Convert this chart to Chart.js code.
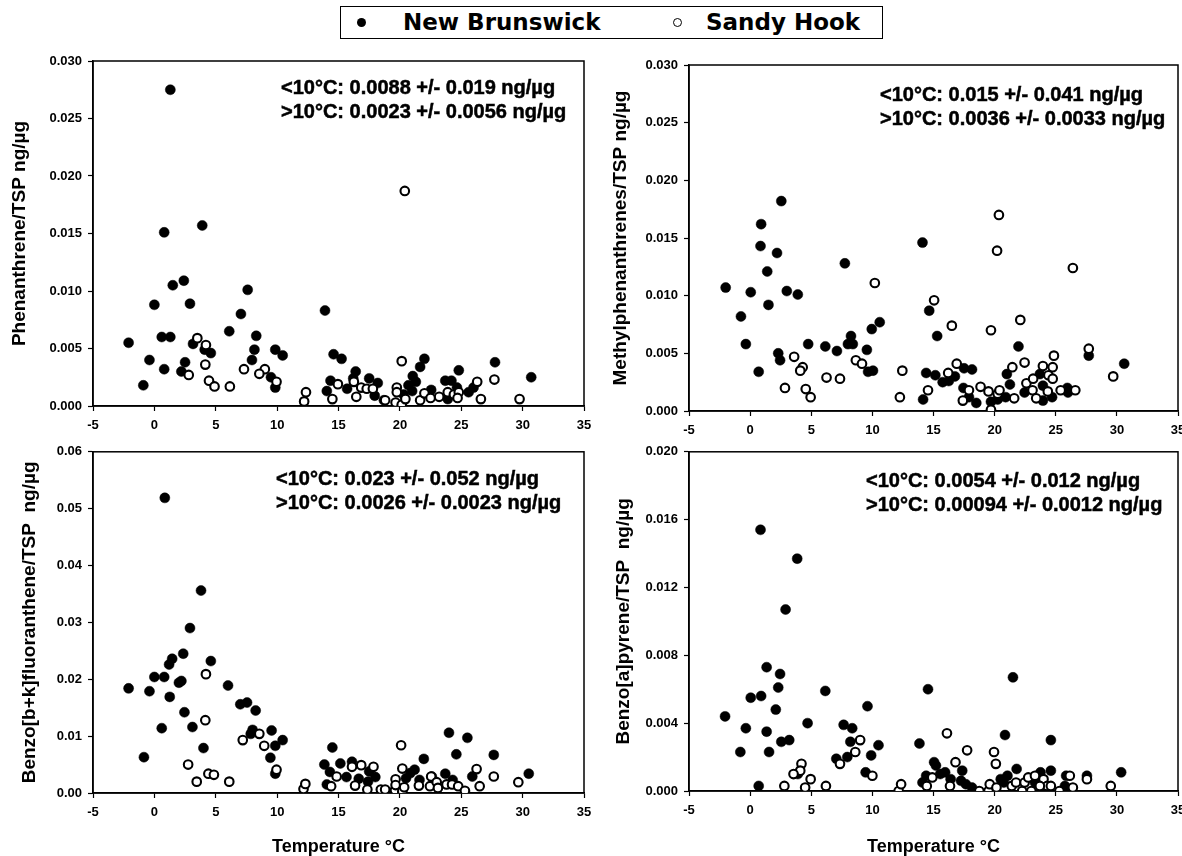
<!DOCTYPE html>
<html>
<head>
<meta charset="utf-8">
<script src="https://cdn.jsdelivr.net/npm/chart.js@4.4.1/dist/chart.umd.min.js"></script>
<style>
    html, body { margin: 0; padding: 0; background: #fff; overflow: hidden; }
    #page { position: relative; width: 1182px; height: 856px; overflow: hidden; }
    #page canvas { position: absolute; }
    #legend {
        position: absolute; left: 340px; top: 6px; width: 541px; height: 31px;
        border: 1.5px solid #000; font: bold 23px "DejaVu Sans", sans-serif; color: #000;
    }
    #legend span { position: absolute; }
    .dot { width: 9px; height: 9px; border-radius: 50%; top: 11px; box-sizing: border-box; }
    .lbl { top: 2px; line-height: 27px; }
</style>
</head>
<body>
<div id="page">
    <div id="legend">
        <span class="dot" style="left:16px;background:#000"></span>
        <span class="lbl" style="left:62px">New Brunswick</span>
        <span class="dot" style="left:332px;border:1.8px solid #000;background:#fff"></span>
        <span class="lbl" style="left:365px">Sandy Hook</span>
    </div>
</div>
<script>
// x axis: temperature (°C)
const tempTicks = { min: -5, max: 35, step: 5 };

// Phenanthrene/TSP  [temp, ng/µg]
const phenNB = [
    [1.3, 0.0275], [0.8, 0.0151], [3.9, 0.0157], [0.0, 0.0088], [1.5, 0.0105], [2.4, 0.0109], [2.9, 0.0089],
    [7.6, 0.0101], [7.05, 0.0080], [6.1, 0.0065], [13.9, 0.0083], [-2.1, 0.0055], [0.6, 0.0060], [1.3, 0.0060],
    [3.15, 0.0054], [4.1, 0.0049], [4.6, 0.0046], [8.3, 0.0061], [8.15, 0.0049], [7.95, 0.0040], [9.85, 0.0049],
    [10.45, 0.0044], [-0.4, 0.0040], [2.5, 0.0038], [0.8, 0.0032], [2.2, 0.0030], [-0.9, 0.0018], [9.5, 0.0025],
    [9.85, 0.0016], [14.6, 0.0045], [15.25, 0.0041], [14.35, 0.0022], [14.05, 0.0013], [16.4, 0.0030],
    [15.7, 0.0015], [16.2, 0.0024], [17.5, 0.0024], [18.2, 0.0020], [17.95, 0.0009], [18.7, 0.0005],
    [22.0, 0.0041], [21.65, 0.0034], [21.05, 0.0026], [21.3, 0.0021], [20.7, 0.0018], [21.0, 0.0013],
    [20.3, 0.0010], [22.55, 0.0014], [23.7, 0.0022], [24.2, 0.0022], [24.8, 0.0031], [23.9, 0.0006],
    [24.65, 0.0016], [25.6, 0.0012], [26.0, 0.0016], [27.75, 0.0038], [30.7, 0.0025]
];
const phenSH = [
    [20.4, 0.0187], [3.5, 0.0059], [4.2, 0.0053], [4.15, 0.0036], [2.8, 0.0027], [4.45, 0.0022], [4.9, 0.0017],
    [6.15, 0.0017], [7.3, 0.0032], [9.0, 0.0032], [8.55, 0.0028], [9.95, 0.0021], [12.2, 0.0004], [12.35, 0.0012],
    [14.5, 0.0006], [14.95, 0.0019], [16.45, 0.0008], [16.25, 0.0021], [16.85, 0.0016], [17.3, 0.0015],
    [17.8, 0.0015], [18.8, 0.0005], [19.65, 0.0003], [20.15, 0.0039], [19.75, 0.0016], [19.75, 0.0012],
    [20.15, 0.0001], [20.45, 0.0006], [21.65, 0.0005], [22.0, 0.0011], [22.5, 0.0007], [23.2, 0.0008],
    [23.9, 0.0012], [24.4, 0.0010], [24.8, 0.0012], [24.7, 0.0007], [26.3, 0.0021], [26.6, 0.0006],
    [27.7, 0.0023], [29.75, 0.0006]
];

// Methylphenanthrenes/TSP
const mpNB = [
    [2.55, 0.0182], [0.9, 0.0162], [0.85, 0.0143], [2.2, 0.0137], [1.4, 0.0121], [-2.0, 0.0107], [0.05, 0.0103],
    [3.0, 0.0104], [3.9, 0.0101], [1.5, 0.0092], [-0.75, 0.0082], [-0.35, 0.0058], [0.7, 0.0034], [2.3, 0.0050],
    [2.45, 0.0044], [4.75, 0.0058], [6.15, 0.0056], [7.1, 0.0052], [7.75, 0.0128], [8.25, 0.0065], [8.0, 0.0058],
    [8.4, 0.0058], [9.55, 0.0053], [9.65, 0.0034], [10.05, 0.0035], [9.95, 0.0071], [10.6, 0.0077],
    [14.1, 0.0146], [14.65, 0.0087], [15.3, 0.0065], [14.4, 0.0033], [15.15, 0.0031], [14.15, 0.0010],
    [15.75, 0.0025], [16.25, 0.0026], [16.75, 0.0030], [17.5, 0.0037], [18.15, 0.0036], [17.45, 0.0020],
    [17.9, 0.0012], [18.5, 0.0007], [19.7, 0.0008], [20.25, 0.0010], [21.0, 0.0032], [21.25, 0.0023],
    [20.9, 0.0012], [21.95, 0.0056], [22.45, 0.0016], [23.7, 0.0032], [23.95, 0.0022], [23.95, 0.0009],
    [24.7, 0.0012], [25.95, 0.0020], [26.0, 0.0016], [27.7, 0.0048], [30.6, 0.0041]
];
const mpSH = [
    [20.35, 0.0170], [20.2, 0.0139], [26.4, 0.0124], [10.2, 0.0111], [15.05, 0.0096], [16.5, 0.0074],
    [19.7, 0.0070], [22.1, 0.0079], [3.6, 0.0047], [4.3, 0.0038], [4.1, 0.0035], [2.85, 0.0020], [4.55, 0.0019],
    [4.95, 0.0012], [6.25, 0.0029], [7.35, 0.0028], [8.65, 0.0044], [9.15, 0.0041], [12.45, 0.0035],
    [12.25, 0.0012], [14.55, 0.0018], [16.2, 0.0033], [16.9, 0.0041], [17.4, 0.0009], [17.9, 0.0018],
    [18.85, 0.0021], [19.5, 0.0017], [19.7, 0.0001], [20.25, 0.0015], [20.4, 0.0018], [21.6, 0.0011],
    [21.45, 0.0038], [22.45, 0.0042], [22.6, 0.0024], [23.15, 0.0028], [23.1, 0.0018], [23.4, 0.0011],
    [23.95, 0.0039], [24.4, 0.0031], [24.75, 0.0038], [24.75, 0.0028], [24.85, 0.0048], [24.35, 0.0017],
    [25.4, 0.0018], [26.6, 0.0018], [27.7, 0.0054], [29.7, 0.0030]
];

// Benzo[b+k]fluoranthene/TSP
const bkfNB = [
    [0.85, 0.0519], [3.8, 0.0356], [2.9, 0.0290], [2.35, 0.0245], [1.45, 0.0236], [1.2, 0.0226], [4.6, 0.0232],
    [0.0, 0.0204], [0.8, 0.0204], [-2.1, 0.0184], [-0.4, 0.0179], [2.0, 0.0194], [2.2, 0.0197], [1.25, 0.0169],
    [6.0, 0.0189], [2.45, 0.0142], [0.6, 0.0114], [-0.85, 0.0063], [3.1, 0.0116], [4.0, 0.0079], [7.0, 0.0156],
    [7.55, 0.0159], [8.25, 0.0145], [8.0, 0.0111], [7.85, 0.0104], [9.55, 0.0110], [9.85, 0.0083],
    [10.45, 0.0093], [9.45, 0.0062], [9.85, 0.0034], [14.5, 0.0080], [13.85, 0.0050], [14.05, 0.0015],
    [14.3, 0.0037], [15.15, 0.0052], [15.65, 0.0028], [16.1, 0.0055], [16.65, 0.0025], [17.5, 0.0038],
    [18.0, 0.0028], [17.4, 0.0020], [21.2, 0.0041], [20.85, 0.0035], [21.95, 0.0060], [20.5, 0.0026],
    [21.6, 0.0023], [22.6, 0.0029], [23.7, 0.0034], [24.0, 0.0106], [25.5, 0.0097], [24.6, 0.0068],
    [24.3, 0.0023], [25.9, 0.0029], [27.65, 0.0067], [30.5, 0.0034]
];
const bkfSH = [
    [4.2, 0.0209], [4.15, 0.0128], [2.75, 0.0050], [3.45, 0.0020], [4.4, 0.0034], [4.85, 0.0032], [6.1, 0.0020],
    [7.2, 0.0093], [8.55, 0.0104], [8.95, 0.0083], [9.95, 0.0041], [12.15, 0.0007], [12.3, 0.0016],
    [14.4, 0.0012], [14.85, 0.0029], [16.1, 0.0046], [16.85, 0.0049], [16.35, 0.0013], [17.35, 0.0006],
    [17.85, 0.0046], [18.45, 0.0006], [18.8, 0.0006], [19.6, 0.0005], [19.65, 0.0024], [19.65, 0.0014],
    [20.1, 0.0084], [20.2, 0.0043], [20.2, 0.0003], [20.35, 0.0010], [21.55, 0.0013], [22.45, 0.0012],
    [22.55, 0.0029], [23.0, 0.0019], [23.1, 0.0009], [23.8, 0.0015], [24.25, 0.0015], [24.75, 0.0012],
    [25.3, 0.0004], [26.25, 0.0042], [26.5, 0.0012], [27.65, 0.0029], [29.65, 0.0019]
];

// Benzo[a]pyrene/TSP
const bapNB = [
    [0.85, 0.0154], [3.85, 0.0137], [2.9, 0.0107], [21.5, 0.0067], [14.55, 0.0060], [-2.05, 0.0044],
    [-0.35, 0.0037], [-0.8, 0.0023], [0.05, 0.0055], [0.9, 0.0056], [1.35, 0.0073], [1.35, 0.0035],
    [1.55, 0.0023], [2.45, 0.0069], [2.3, 0.0061], [2.1, 0.0048], [2.55, 0.0029], [3.2, 0.0030], [0.7, 0.0003],
    [3.9, 0.0010], [4.7, 0.0040], [6.15, 0.0059], [7.65, 0.0039], [8.35, 0.0037], [8.2, 0.0029], [7.05, 0.0019],
    [7.95, 0.0020], [9.6, 0.0050], [9.9, 0.0021], [10.5, 0.0027], [9.45, 0.0011], [13.85, 0.0028],
    [15.05, 0.0017], [15.2, 0.0015], [14.1, 0.0005], [14.4, 0.0009], [15.95, 0.0011], [15.55, 0.0010],
    [16.4, 0.0007], [17.35, 0.0012], [17.25, 0.0006], [17.65, 0.0004], [18.15, 0.0002], [20.85, 0.0033],
    [21.8, 0.0013], [21.05, 0.0009], [20.5, 0.0007], [20.75, 0.0005], [23.75, 0.0011], [24.6, 0.0030],
    [24.6, 0.0012], [23.3, 0.0005], [24.0, 0.0003], [25.85, 0.0009], [25.75, 0.0003], [27.55, 0.0009],
    [30.35, 0.0011]
];
const bapSH = [
    [16.1, 0.0034], [17.75, 0.0024], [16.8, 0.0017], [19.95, 0.0023], [20.1, 0.0016], [9.0, 0.0030],
    [8.6, 0.0023], [7.35, 0.0016], [4.2, 0.0016], [4.1, 0.0012], [3.55, 0.0010], [2.8, 0.0003], [4.5, 0.0002],
    [4.95, 0.0007], [6.2, 0.0003], [10.0, 0.0009], [12.15, 0.0000], [12.35, 0.0004], [14.45, 0.0003],
    [14.9, 0.0008], [16.35, 0.0003], [18.75, 0.0000], [19.5, 0.0000], [19.6, 0.0004], [20.15, 0.0002],
    [21.4, 0.0003], [21.75, 0.0005], [22.25, 0.0000], [22.45, 0.0005], [22.75, 0.0008], [23.0, 0.0000],
    [23.3, 0.0009], [24.0, 0.0007], [24.3, 0.0003], [24.6, 0.0003], [23.7, 0.0003], [25.3, 0.0000],
    [26.15, 0.0009], [26.4, 0.0002], [27.55, 0.0007], [29.5, 0.0003]
];

// mean +/- sd notes
const phenNotes = ['<10°C: 0.0088 +/- 0.019 ng/µg', '>10°C: 0.0023 +/- 0.0056 ng/µg'];
const mpNotes = ['<10°C: 0.015 +/- 0.041 ng/µg', '>10°C: 0.0036 +/- 0.0033 ng/µg'];
const bkfNotes = ['<10°C: 0.023 +/- 0.052 ng/µg', '>10°C: 0.0026 +/- 0.0023 ng/µg'];
const bapNotes = ['<10°C: 0.0054 +/- 0.012 ng/µg', '>10°C: 0.00094 +/- 0.0012 ng/µg'];

const FONT = '"Liberation Sans", Arial, sans-serif';

// khung + chú thích trong ô vẽ
const framePlugin = {
    id: 'frame',
    beforeDatasetsDraw(chart) {
        const { ctx, chartArea: a } = chart;
        ctx.save();
        ctx.strokeStyle = '#000';
        ctx.lineWidth = 1.5;
        ctx.strokeRect(a.left, a.top, a.right - a.left, a.bottom - a.top);
        ctx.restore();
    },
    afterDatasetsDraw(chart, args, opts) {
        const { ctx, chartArea: a } = chart;
        ctx.save();
        ctx.fillStyle = '#000';
        ctx.strokeStyle = '#000';
        ctx.lineWidth = 0.5;
        ctx.font = 'bold 20px ' + FONT;
        ctx.textBaseline = 'middle';
        opts.lines.forEach((t, i) => {
            ctx.fillText(t, a.left + opts.dx, a.top + opts.dy + i * 24);
            ctx.strokeText(t, a.left + opts.dx, a.top + opts.dy + i * 24);
        });
        ctx.restore();
    }
};

function makePanel(p) {
    const cv = document.createElement('canvas');
    cv.width = p.box.w;
    cv.height = p.box.h;
    cv.style.left = p.box.x + 'px';
    cv.style.top = p.box.y + 'px';
    document.getElementById('page').appendChild(cv);

    const tickFont = { family: FONT, weight: 'bold', size: 13 };
    new Chart(cv, {
        type: 'scatter',
        data: {
            datasets: [
                {
                    label: 'Sandy Hook',
                    data: p.sh.map(([x, y]) => ({ x, y })),
                    pointRadius: 4.3, borderWidth: 2.1,
                    backgroundColor: '#fff', borderColor: '#000'
                },
                {
                    label: 'New Brunswick',
                    data: p.nb.map(([x, y]) => ({ x, y })),
                    pointRadius: 5, borderWidth: 0.5,
                    backgroundColor: '#000', borderColor: '#000'
                }
            ]
        },
        options: {
            responsive: false,
            animation: false,
            events: [],
            layout: {
                padding: {
                    top: p.plot.top - p.box.y,
                    right: p.box.x + p.box.w - p.plot.right,
                    left: 0, bottom: 0
                }
            },
            plugins: {
                legend: { display: false },
                tooltip: { enabled: false },
                frame: { lines: p.notes, dx: p.noteAt[0], dy: p.noteAt[1] }
            },
            scales: {
                x: {
                    type: 'linear',
                    min: tempTicks.min, max: tempTicks.max,
                    grid: { drawOnChartArea: false, drawTicks: true, tickLength: 5, tickColor: '#000', tickWidth: 1.2 },
                    border: { display: true, color: '#000', width: 1.5 },
                    ticks: { stepSize: tempTicks.step, color: '#000', font: tickFont, padding: 7, maxRotation: 0 },
                    title: {
                        display: !!p.xTitle, text: p.xTitle || '', color: '#000',
                        font: { family: FONT, weight: 'bold', size: 18 }, padding: { top: 0, bottom: 0 }
                    },
                    afterFit: s => { s.height = p.box.y + p.box.h - p.plot.bottom; }
                },
                y: {
                    min: 0, max: p.yMax,
                    grid: { drawOnChartArea: false, drawTicks: true, tickLength: 5, tickColor: '#000', tickWidth: 1.2 },
                    border: { display: true, color: '#000', width: 1.5 },
                    ticks: {
                        stepSize: p.yStep, color: '#000', font: tickFont, padding: 6,
                        callback: v => v.toFixed(p.yDec)
                    },
                    title: {
                        display: true, text: p.yTitle, color: '#000',
                        font: { family: FONT, weight: 'bold', size: 19 }, padding: { top: p.yTitlePad, bottom: 0 }
                    },
                    afterFit: s => { s.width = p.plot.left - p.box.x; }
                }
            }
        },
        plugins: [framePlugin]
    });
}

makePanel({
    box: { x: 0, y: 44, w: 600, h: 396 },
    plot: { left: 93, right: 584, top: 61, bottom: 406 },
    yMax: 0.030, yStep: 0.005, yDec: 3, yTitlePad: 8.5,
    yTitle: 'Phenanthrene/TSP ng/µg',
    nb: phenNB, sh: phenSH, notes: phenNotes, noteAt: [188, 27]
});
makePanel({
    box: { x: 600, y: 44, w: 600, h: 396 },
    plot: { left: 689, right: 1178, top: 65, bottom: 411 },
    yMax: 0.030, yStep: 0.005, yDec: 3, yTitlePad: 9.5,
    yTitle: 'Methylphenanthrenes/TSP ng/µg',
    nb: mpNB, sh: mpSH, notes: mpNotes, noteAt: [191, 30]
});
makePanel({
    box: { x: 0, y: 438, w: 600, h: 420 },
    plot: { left: 93, right: 584, top: 449, bottom: 793 },
    yMax: 0.06, yStep: 0.01, yDec: 2, yTitlePad: 18.5,
    yTitle: 'Benzo[b+k]fluoranthene/TSP  ng/µg', xTitle: 'Temperature °C',
    nb: bkfNB, sh: bkfSH, notes: bkfNotes, noteAt: [183, 28]
});
makePanel({
    box: { x: 600, y: 438, w: 600, h: 420 },
    plot: { left: 689, right: 1178, top: 450, bottom: 791 },
    yMax: 0.020, yStep: 0.004, yDec: 3, yTitlePad: 12.5,
    yTitle: 'Benzo[a]pyrene/TSP  ng/µg', xTitle: 'Temperature °C',
    nb: bapNB, sh: bapSH, notes: bapNotes, noteAt: [177, 30]
});
</script>
</body>
</html>
